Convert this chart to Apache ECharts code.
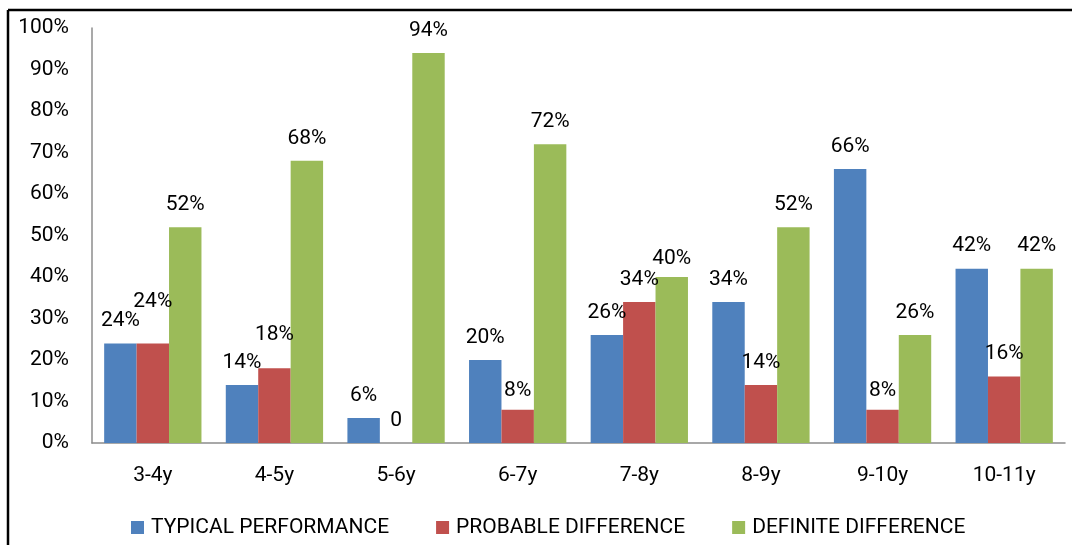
<!DOCTYPE html>
<html>
<head>
<meta charset="utf-8">
<script src="https://cdn.jsdelivr.net/npm/echarts@6/dist/echarts.min.js"></script>
<style>
html,body{margin:0;padding:0;background:#fff;}
#chart{width:1072px;height:545px;}
</style>
</head>
<body>
<div id="chart"></div>
<script>
const categories = ['3-4y','4-5y','5-6y','6-7y','7-8y','8-9y','9-10y','10-11y'];
const seriesNames = ['TYPICAL PERFORMANCE','PROBABLE DIFFERENCE','DEFINITE DIFFERENCE'];
const typical  = [24, 14, 6, 20, 26, 34, 66, 42];
const probable = [24, 18, 0,  8, 34, 14,  8, 16];
const definite = [52, 68, 94, 72, 40, 52, 26, 42];
const yTicks = [0,10,20,30,40,50,60,70,80,90,100];

// extra label lift (px) for labels that were moved by hand in the original
const labelLift = {
  1: {0: 19, 1: 11, 3: -3, 6: -3},
  2: {4: -4}
};

const colors = ['#4F81BD','#C0504D','#9BBB59'];
const FONT = 'Roboto';
const baseDist = 12;

function mkData(arr, si){
  return arr.map((v,i)=>{
    const lift = (labelLift[si] && labelLift[si][i]) || 0;
    return {value:v, label:{distance: baseDist + lift}};
  });
}

const chart = echarts.init(document.getElementById('chart'), null, {renderer:'canvas'});
const dataSets = [typical, probable, definite];
chart.setOption({
  animation:false,
  backgroundColor:'#fff',
  grid:{left:92, right:7, top:28, bottom:102, containLabel:false},
  xAxis:{
    type:'category', data:categories,
    axisLine:{lineStyle:{color:'#8c8c8c', width:1.5}},
    axisTick:{show:false},
    axisLabel:{color:'#000', fontFamily:FONT, fontSize:21, margin:22}
  },
  yAxis:{
    type:'value', min:yTicks[0], max:yTicks[yTicks.length-1], interval:10,
    axisLine:{show:true, lineStyle:{color:'#8c8c8c', width:1.5}},
    axisTick:{show:false},
    splitLine:{show:false},
    axisLabel:{color:'#000', fontFamily:FONT, fontSize:21, margin:23, formatter:'{value}%'}
  },
  legend:{
    bottom:2, left:126,
    itemWidth:13, itemHeight:13, itemGap:47,
    icon:'rect',
    textStyle:{color:'#000', fontFamily:FONT, fontSize:21, padding:[0,0,0,2]},
    data:seriesNames
  },
  series: dataSets.map((arr,si)=>({
    name:seriesNames[si], type:'bar',
    barGap:'0%', barCategoryGap:'20%',
    itemStyle:{color:colors[si]},
    label:{
      show:true, position:'top', color:'#000', fontFamily:FONT, fontSize:21,
      formatter:p=> p.value===0 ? '0' : p.value+'%'
    },
    data:mkData(arr, si)
  })),
  graphic:[
    {type:'line', shape:{x1:8, y1:10, x2:1072, y2:10}, style:{stroke:'#000', lineWidth:2.5}},
    {type:'line', shape:{x1:8, y1:10, x2:8, y2:545}, style:{stroke:'#000', lineWidth:2.5}}
  ]
});
</script>
</body>
</html>
